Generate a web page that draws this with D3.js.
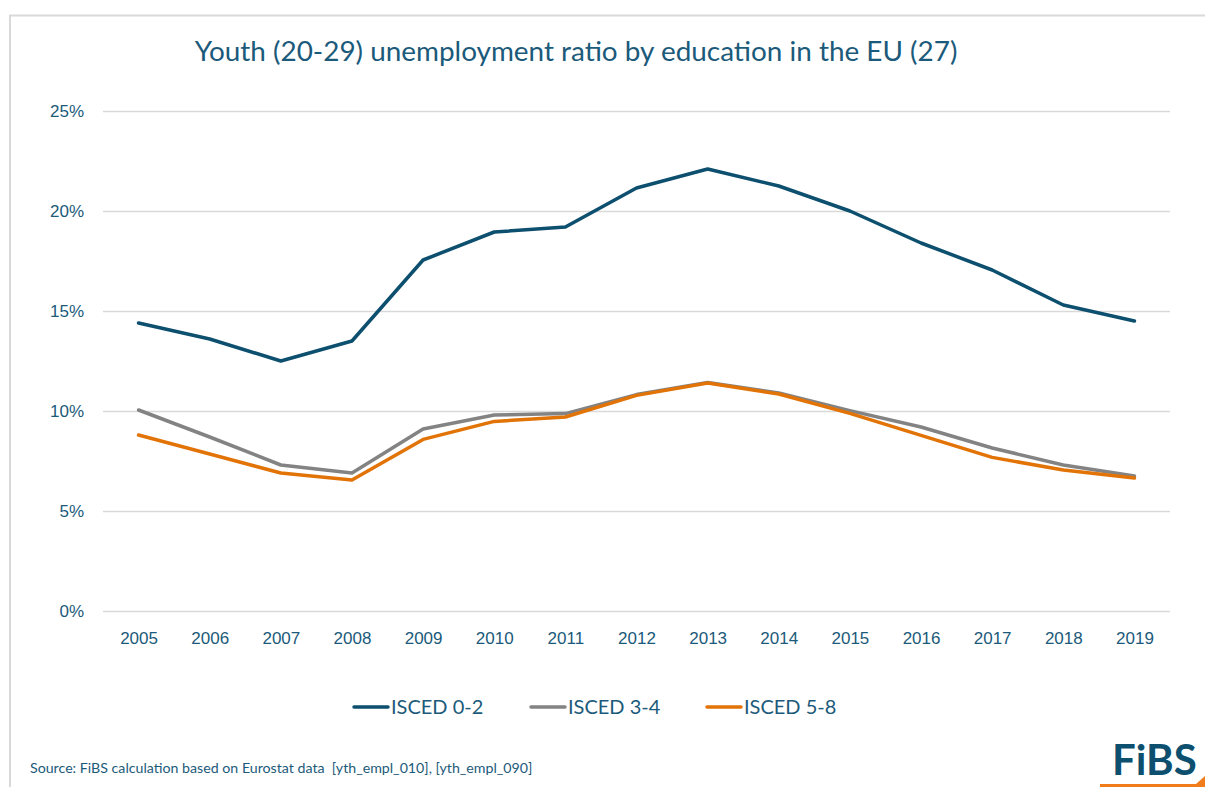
<!DOCTYPE html>
<html>
<head>
<meta charset="utf-8">
<script src="https://cdn.jsdelivr.net/npm/d3@7"></script>
<style>
  body { margin: 0; background: #fff; }
  svg { display: block; font-family: "Source Sans Pro", Lato, sans-serif; }
  .grid line { stroke: #d9d9d9; stroke-width: 1.5; }
  .grid .domain { display: none; }
  .tick text { fill: #1b5a7a; font-size: 17px; }
</style>
</head>
<body>
<svg width="1205" height="787"></svg>
<script>
var years = ["2005","2006","2007","2008","2009","2010","2011","2012","2013","2014","2015","2016","2017","2018","2019"];
var isced02 = [14.4, 13.6, 12.5, 13.5, 17.55, 18.95, 19.2, 21.15, 22.1, 21.25, 20.0, 18.4, 17.05, 15.3, 14.5];
var isced34 = [10.05, 8.7, 7.3, 6.9, 9.1, 9.8, 9.87, 10.82, 11.42, 10.9, 10.02, 9.2, 8.15, 7.3, 6.75];
var isced58 = [8.8, 7.85, 6.9, 6.55, 8.58, 9.48, 9.7, 10.78, 11.4, 10.85, 9.88, 8.78, 7.68, 7.05, 6.65];
var seriesNames = ["ISCED 0-2", "ISCED 3-4", "ISCED 5-8"];
var yTicks = [0, 5, 10, 15, 20, 25];

var colors = ["#0d4f6e", "#838383", "#e27307"];
var textColor = "#1b5a7a";

var svg = d3.select("svg");
var width = +svg.attr("width");
var height = +svg.attr("height");

// outer frame
svg.append("path")
    .attr("d", "M10," + height + "V15.5H" + width)
    .attr("fill", "none")
    .attr("stroke", "#d9d9d9")
    .attr("stroke-width", 2);

var x = d3.scalePoint()
    .domain(years)
    .range([103, 1170])
    .padding(0.5);

var y = d3.scaleLinear()
    .domain([0, 25])
    .range([611, 111]);

svg.append("text")
    .attr("x", 576)
    .attr("y", 61)
    .attr("text-anchor", "middle")
    .attr("fill", textColor)
    .style("font-size", "27.9px")
    .text("Youth (20-29) unemployment ratio by education in the EU (27)");

svg.append("g")
    .attr("class", "grid")
    .attr("transform", "translate(103,0)")
    .call(d3.axisLeft(y)
        .tickValues(yTicks)
        .tickSize(-(1170 - 103))
        .tickPadding(19)
        .tickFormat(function (d) { return d + "%"; }));

svg.append("g")
    .attr("class", "grid")
    .attr("transform", "translate(0,611)")
    .call(d3.axisBottom(x).tickSize(0).tickPadding(21))
    .call(function (g) { g.select(".domain").remove(); });

var line = d3.line()
    .x(function (d, i) { return x(years[i]); })
    .y(function (d) { return y(d); });

var allSeries = [isced02, isced34, isced58];

// draw grey, orange, then blue
[1, 2, 0].forEach(function (k) {
    svg.append("path")
        .datum(allSeries[k])
        .attr("fill", "none")
        .attr("stroke", colors[k])
        .attr("stroke-width", 3.5)
        .attr("stroke-linejoin", "round")
        .attr("stroke-linecap", "round")
        .attr("d", line);
});

// legend
var legendX = [354, 531, 707];
var legend = svg.append("g")
    .selectAll("g")
    .data(seriesNames)
    .enter()
    .append("g")
    .attr("transform", function (d, i) { return "translate(" + legendX[i] + ",707)"; });

legend.append("line")
    .attr("x1", 0)
    .attr("x2", 34)
    .attr("stroke", function (d, i) { return colors[i]; })
    .attr("stroke-width", 3.5)
    .attr("stroke-linecap", "round");

legend.append("text")
    .attr("x", 37)
    .attr("y", 7)
    .attr("fill", textColor)
    .style("font-size", "20px")
    .text(function (d) { return d; });

svg.append("text")
    .attr("x", 30)
    .attr("y", 773)
    .attr("fill", textColor)
    .style("font-size", "14.2px")
    .style("white-space", "pre")
    .text("Source: FiBS calculation based on Eurostat data  [yth_empl_010], [yth_empl_090]");

// logo
svg.append("text")
    .attr("x", 1112)
    .attr("y", 775)
    .attr("fill", "#0d4f6e")
    .style("font-size", "42px")
    .style("font-weight", "bold")
    .text("FiBS");

svg.append("path")
    .attr("d", "M1100,787V784H1196L1205,776V787Z")
    .attr("fill", "#f07d1a");
</script>
</body>
</html>
